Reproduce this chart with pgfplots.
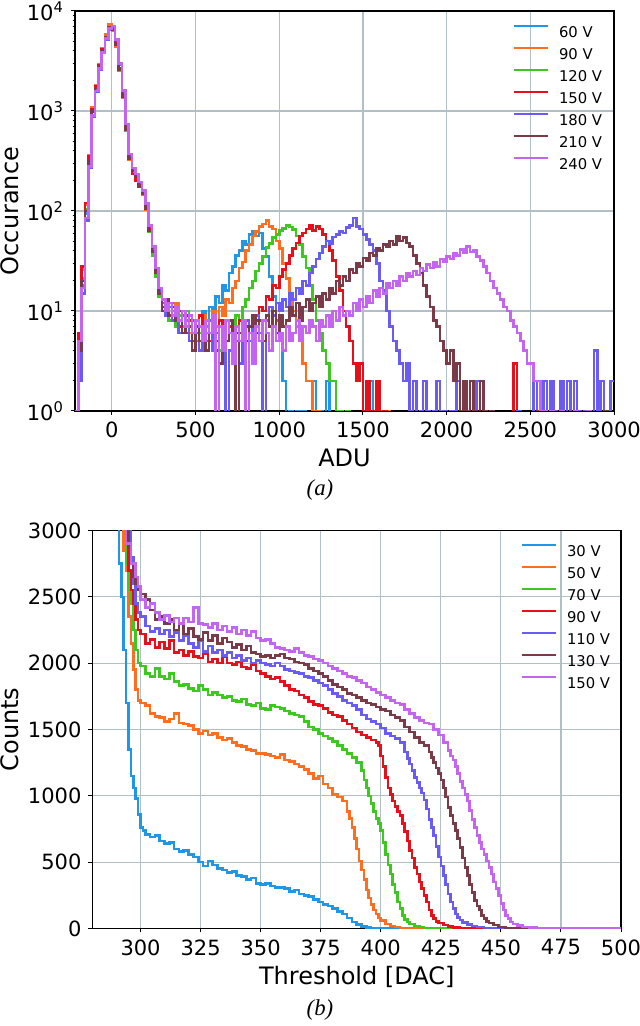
\documentclass[border=0pt]{standalone}
\usepackage{fontspec}
\setmainfont{DejaVu Sans}
\newfontfamily\capfont{Liberation Serif}
\usepackage{pgfplots}
\pgfplotsset{compat=1.18}
\definecolor{c1}{HTML}{1F96E6}
\definecolor{c2}{HTML}{FF6E1E}
\definecolor{c3}{HTML}{3CC81E}
\definecolor{c4}{HTML}{E6101A}
\definecolor{c5}{HTML}{6A5CF2}
\definecolor{c6}{HTML}{7A3A48}
\definecolor{c7}{HTML}{C464F0}
\definecolor{gridc}{HTML}{B0C0C6}
\pgfplotsset{myax/.style={
  scale only axis,
  axis line style={line width=0.6pt},
  tick align=outside, xtick pos=left, ytick pos=left,
  major tick length=2pt, minor tick length=1.2pt,
  tick style={black, line width=0.5pt},
  grid=major, major grid style={gridc, line width=0.6pt},
  tick label style={font=\fontsize{10.5}{12}\selectfont},
  label style={font=\fontsize{12}{14}\selectfont},
  legend style={draw=none, fill=none, anchor=north west, font=\fontsize{7.4}{8}\selectfont, inner sep=0pt, outer sep=0pt, row sep=5.1pt, nodes={inner sep=0pt, text height=5.4pt, text depth=0pt}, /tikz/every odd column/.append style={column sep=5pt}},
  legend cell align=left,
  legend image code/.code={\draw[##1, line width=1pt] (0pt,2.7pt) -- (17pt,2.7pt);},
  every axis plot/.append style={const plot mark left, line width=1.3pt, mark=none, line join=miter},
}}
\begin{document}
\begin{tikzpicture}
\path[use as bounding box] (0,0) rectangle (320pt,513pt);
\begin{axis}[myax, at={(37.5pt,307.5pt)}, anchor=south west, width=269.5pt, height=200pt,
  xmin=-220, xmax=3000, ymode=log, ymin=1, ymax=10000,
  xtick={0,500,...,3000}, xticklabels={0,500,1000,1500,2000,2500,3000},
  ytick={1,10,100,1000,10000},
  minor ytick={2,...,9,20,30,...,90,200,300,...,900,2000,3000,...,9000},
  yticklabels={10\textsuperscript{0},10\textsuperscript{1},10\textsuperscript{2},10\textsuperscript{3},10\textsuperscript{4}},
  xlabel={ADU}, ylabel={Occurance},
  xlabel style={at={(axis description cs:0.5,-0.1175)}, anchor=center},
  ylabel style={at={(axis description cs:-0.1206,0.5)}, anchor=center},
  legend style={at={(0.8126,0.964)}}]
\addplot[c1] coordinates {(-220,0.5)(-200,3)(-180,18)(-160,95)(-140,310)(-120,980)(-100,1650)(-80,2750)(-60,3900)(-40,5400)(-20,6600)(0,6300)(20,4600)(40,2700)(60,1450)(80,680)(100,340)(120,255)(140,225)(160,185)(180,150)(200,108)(220,66)(240,41)(260,24)(280,15)
(300,13)(320,9)(340,11)(360,12)(380,7)(400,10)(420,6)(440,8)(460,9)(480,4)(500,7)(520,6)(540,10)(560,7)(580,11)(600,9)(620,14)(640,12)(660,18)(680,16)(700,24)(720,28)(740,36)(760,40)(780,50)(800,46)(820,58)(840,62)(860,56)(880,60)(900,42)(920,35)(940,22)(960,14)(980,8)(1000,5)(1020,2)(1040,0.5)(1060,1)(1080,0.5)(1100,1)(1120,0.5)(1140,1)(1160,0.5)(1200,2)(1220,0.5)(1240,1)(1260,0.5)(1280,2)(1300,0.5)(1340,1)(1360,0.5)(1540,2)(1560,0.5)(1600,1)(1620,0.5)(3000,0.5)};
\addplot[c2] coordinates {(-220,0.5)(-200,5)(-180,26)(-160,115)(-140,360)(-120,1080)(-100,1820)(-80,2950)(-60,4250)(-40,5800)(-20,7300)(0,6400)(20,4400)(40,2500)(60,1350)(80,630)(100,325)(120,245)(140,210)(160,182)(180,146)(200,104)(220,63)(240,38)(260,23)(280,16)
(300,11)(320,13)(340,9)(360,10)(380,12)(400,8)(420,7)(440,10)(460,6)(480,8)(500,5)(520,7)(540,9)(560,6)(580,8)(600,10)(620,7)(640,11)(660,9)(680,13)(700,12)(720,17)(740,20)(760,27)(780,31)(800,40)(820,46)(840,56)(860,62)(880,70)(900,74)(920,80)(940,70)(960,66)(980,50)(1000,42)(1020,30)(1040,21)(1060,14)(1080,10)(1100,7)(1120,5)(1140,3)(1160,2)(1180,2)(1200,1)(1220,1)(1240,0.5)(1640,1)(1660,0.5)(3000,0.5)};
\addplot[c3] coordinates {(-220,1)(-200,4)(-180,21)(-160,105)(-140,330)(-120,1010)(-100,1720)(-80,2800)(-60,4050)(-40,5600)(-20,6800)(0,6600)(20,4550)(40,2650)(60,1420)(80,660)(100,335)(120,240)(140,205)(160,178)(180,148)(200,112)(220,62)(240,36)(260,22)(280,14)
(300,10)(320,12)(340,8)(360,11)(380,7)(400,9)(420,6)(440,10)(460,7)(480,5)(500,8)(520,6)(540,4)(560,7)(580,5)(600,8)(620,6)(640,4)(660,7)(680,5)(700,8)(720,6)(740,9)(760,8)(780,11)(800,13)(820,17)(840,20)(860,25)(880,30)(900,35)(920,43)(940,47)(960,54)(980,58)(1000,64)(1020,67)(1040,72)(1060,69)(1080,65)(1100,56)(1120,46)(1140,35)(1160,27)(1180,18)(1200,13)(1220,8)(1240,6)(1260,4)(1280,3)(1300,2)(1320,2)(1340,1)(1360,1)(1380,0.5)(1400,1)(1420,0.5)(1960,1)(1980,0.5)(2260,1)(2280,0.5)(3000,0.5)};
\addplot[c4] coordinates {(-220,0.5)(-200,6)(-180,28)(-160,120)(-140,350)(-120,1040)(-100,1760)(-80,2850)(-60,4100)(-40,5500)(-20,6700)(0,6700)(20,4700)(40,2700)(60,1480)(80,690)(100,345)(120,235)(140,200)(160,175)(180,150)(200,110)(220,68)(240,40)(260,25)(280,15)
(300,11)(320,9)(340,12)(360,8)(380,10)(400,7)(420,9)(440,6)(460,8)(480,5)(500,7)(520,9)(540,6)(560,8)(580,5)(600,7)(620,4)(640,8)(660,6)(680,5)(700,7)(720,4)(740,6)(760,8)(780,5)(800,7)(820,6)(840,9)(860,8)(880,11)(900,10)(920,14)(940,13)(960,18)(980,17)(1000,22)(1020,26)(1040,30)(1060,36)(1080,42)(1100,48)(1120,56)(1140,60)(1160,66)(1180,72)(1200,64)(1220,70)(1240,66)(1260,58)(1280,50)(1300,40)(1320,32)(1340,22)(1360,16)(1380,10)(1400,7)(1420,5)(1440,3)(1460,2)(1480,3)(1500,1)(1520,2)(1540,0.5)(1560,1)(1580,2)(1600,0.5)(1620,1)(1640,0.5)(2400,3)(2420,0.5)(2560,2)(2580,0.5)(3000,0.5)};
\addplot[c5] coordinates {(-220,0.5)(-200,2)(-180,15)(-160,80)(-140,270)(-120,880)(-100,1550)(-80,2600)(-60,3800)(-40,5200)(-20,6500)(0,6900)(20,5000)(40,2900)(60,1550)(80,720)(100,360)(120,265)(140,230)(160,192)(180,158)(200,115)(220,70)(240,42)(260,26)(280,16)
(300,12)(320,9)(340,11)(360,8)(380,10)(400,6)(420,9)(440,7)(460,5)(480,8)(500,6)(520,4)(540,7)(560,5)(580,8)(600,4)(620,6)(640,3)(660,7)(680,0.5)(700,4)(720,7)(740,5)(760,3)(780,6)(800,8)(820,5)(840,7)(860,9)(880,6)(900,0.5)(920,8)(940,11)(960,9)(980,12)(1000,10)(1020,13)(1040,11)(1060,15)(1080,13)(1100,17)(1120,15)(1140,20)(1160,18)(1180,24)(1200,28)(1220,33)(1240,38)(1260,44)(1280,50)(1300,47)(1320,55)(1340,58)(1360,62)(1380,60)(1400,68)(1420,72)(1440,85)(1460,70)(1480,66)(1500,58)(1520,52)(1540,46)(1560,40)(1580,30)(1600,20)(1620,16)(1640,10)(1660,7)(1680,5)(1700,4)(1720,3)(1740,2)(1760,3)(1780,1)(1800,2)(1820,0.5)(1840,1)(1860,2)(1880,1)(1900,0.5)(1920,1)(1940,2)(1960,0.5)(1980,1)(2000,0.5)(2020,1)(2040,0.5)(2060,2)(2080,0.5)(2120,1)(2140,0.5)(2180,2)(2200,0.5)(2220,1)(2240,0.5)(2420,1)(2440,0.5)(2520,2)(2540,0.5)(2580,2)(2600,0.5)(2620,2)(2640,1)(2660,0.5)(2680,2)(2700,0.5)(2720,2)(2740,0.5)(2760,2)(2780,1)(2800,0.5)(2820,1)(2840,0.5)(2880,4)(2900,0.5)(2920,2)(2940,0.5)(2960,1)(2980,2)(3000,2)};
\addplot[c6] coordinates {(-220,0.5)(-200,4)(-180,20)(-160,100)(-140,315)(-120,990)(-100,1700)(-80,2780)(-60,4000)(-40,5500)(-20,6900)(0,6500)(20,4550)(40,2600)(60,1400)(80,650)(100,330)(120,250)(140,222)(160,180)(180,150)(200,105)(220,64)(240,39)(260,24)(280,15)
(300,10)(320,13)(340,9)(360,11)(380,8)(400,10)(420,6)(440,9)(460,7)(480,4)(500,8)(520,5)(540,7)(560,4)(580,6)(600,8)(620,5)(640,3)(660,7)(680,5)(700,8)(720,4)(740,0.5)(760,6)(780,8)(800,5)(820,7)(840,9)(860,6)(880,8)(900,5)(920,9)(940,7)(960,10)(980,6)(1000,9)(1020,7)(1040,8)(1060,11)(1080,9)(1100,12)(1120,8)(1140,11)(1160,13)(1180,10)(1200,12)(1220,14)(1240,11)(1260,15)(1280,13)(1300,17)(1320,15)(1340,20)(1360,18)(1380,22)(1400,20)(1420,26)(1440,24)(1460,30)(1480,28)(1500,34)(1520,32)(1540,38)(1560,36)(1580,42)(1600,40)(1620,46)(1640,44)(1660,50)(1680,46)(1700,56)(1720,50)(1740,54)(1760,48)(1780,44)(1800,36)(1820,30)(1840,24)(1860,18)(1880,14)(1900,11)(1920,8)(1940,7)(1960,5)(1980,4)(2000,3)(2020,4)(2040,2)(2060,3)(2080,1)(2100,2)(2120,1)(2140,2)(2160,1)(2180,0.5)(2200,2)(2220,1)(2240,0.5)(2260,1)(2280,0.5)(2540,1)(2560,0.5)(2940,1)(2960,0.5)(3000,0.5)};
\addplot[c7] coordinates {(-220,1)(-200,5)(-180,17)(-160,85)(-140,280)(-120,900)(-100,1580)(-80,2650)(-60,3850)(-40,5300)(-20,6700)(0,7100)(20,5200)(40,3000)(60,1600)(80,740)(100,370)(120,270)(140,235)(160,195)(180,160)(200,118)(220,72)(240,44)(260,27)(280,17)
(300,13)(320,10)(340,12)(360,9)(380,11)(400,8)(420,10)(440,7)(460,9)(480,6)(500,8)(520,7)(540,5)(560,8)(580,6)(600,9)(620,0.5)(640,7)(660,4)(680,8)(700,6)(720,3)(740,7)(760,5)(780,8)(800,0.5)(820,6)(840,3)(860,7)(880,5)(900,8)(920,6)(940,4)(960,7)(980,5)(1000,6)(1020,4)(1040,7)(1060,5)(1080,6)(1100,8)(1120,5)(1140,7)(1160,6)(1180,8)(1200,7)(1220,5)(1240,8)(1260,7)(1280,9)(1300,7)(1320,10)(1340,8)(1360,11)(1380,9)(1400,10)(1420,9)(1440,12)(1460,10)(1480,13)(1500,11)(1520,14)(1540,12)(1560,16)(1580,14)(1600,17)(1620,15)(1640,19)(1660,17)(1680,20)(1700,18)(1720,22)(1740,20)(1760,24)(1780,22)(1800,25)(1820,23)(1840,27)(1860,25)(1880,29)(1900,27)(1920,31)(1940,28)(1960,33)(1980,31)(2000,35)(2020,33)(2040,38)(2060,36)(2080,41)(2100,38)(2120,44)(2140,39)(2160,40)(2180,35)(2200,32)(2220,28)(2240,24)(2260,20)(2280,17)(2300,15)(2320,13)(2340,11)(2360,10)(2380,8)(2400,7)(2420,6)(2440,5)(2460,4)(2480,3)(2500,3)(2520,2)(2540,2)(2560,1)(2580,1)(2600,0.5)(2620,1)(2640,0.5)(2680,1)(2700,0.5)(2760,1)(2780,0.5)(2840,1)(2860,0.5)(3000,0.5)};
\legend{60 V,90 V,120 V,150 V,180 V,210 V,240 V}
\end{axis}
\begin{axis}[myax, at={(46.25pt,48.75pt)}, anchor=south west, width=264.25pt, height=199pt,
  xmin=280, xmax=500, ymin=0, ymax=3000,
  xtick={300,325,...,500}, xticklabels={300,325,350,375,400,425,450,475,500},
  ytick={0,500,...,3000}, yticklabels={0,500,1000,1500,2000,2500,3000},
  xlabel={Threshold [DAC]}, ylabel={Counts},
  xlabel style={at={(axis description cs:0.5,-0.122)}, anchor=center},
  ylabel style={at={(axis description cs:-0.156,0.5)}, anchor=center},
  legend style={at={(0.8108,0.965)}}]
\addplot[c1] coordinates {(286,4000)(290,3200)(291,2750)(292,2500)(293,2100)(294,1700)(295,1350)(296,1150)(297,1060)(298,980)(299,860)(300,760)(301,740)(302,710)(304,690)(306,700)(308,660)(310,640)(312,650)(314,600)(316,580)(318,590)(320,560)(322,540)(324,500)(326,470)(328,510)(330,480)(332,450)(334,440)(336,420)(338,430)(340,400)(342,390)(344,370)(346,380)(348,340)(350,330)(352,340)(354,320)(356,310)(358,310)(360,300)(362,280)(364,290)(366,260)(368,250)(370,240)(372,220)(374,200)(376,180)(378,170)(380,150)(382,130)(384,110)(386,80)(388,50)(390,30)(392,15)(394,8)(396,4)(398,2)(400,0)(500,0)};
\addplot[c2] coordinates {(286,4000)(292,3050)(293,2850)(294,2700)(295,2350)(296,2150)(297,1950)(298,1800)(299,1720)(300,1700)(302,1680)(304,1620)(306,1600)(308,1590)(310,1560)(312,1580)(314,1620)(316,1550)(318,1540)(320,1530)(322,1500)(324,1470)(326,1490)(328,1460)(330,1470)(332,1440)(334,1420)(336,1430)(338,1400)(340,1380)(342,1370)(344,1350)(346,1340)(348,1320)(350,1320)(352,1310)(354,1300)(356,1290)(358,1310)(360,1270)(362,1260)(364,1240)(366,1220)(368,1200)(370,1170)(372,1130)(374,1150)(376,1090)(378,1060)(380,1010)(382,990)(384,960)(386,880)(387,830)(388,760)(389,680)(390,600)(391,510)(392,440)(393,370)(394,290)(395,230)(396,180)(397,140)(398,110)(399,80)(400,60)(402,35)(404,20)(406,10)(408,5)(410,2)(414,0)(500,0)};
\addplot[c3] coordinates {(286,4000)(293,3050)(294,2750)(295,2550)(296,2450)(297,2250)(298,2100)(299,2000)(300,1980)(302,1920)(304,1900)(306,1960)(308,1900)(310,1880)(312,1920)(314,1860)(316,1830)(318,1840)(320,1810)(322,1790)(324,1830)(326,1800)(328,1760)(330,1780)(332,1760)(334,1740)(336,1750)(338,1720)(340,1710)(342,1730)(344,1690)(346,1680)(348,1700)(350,1660)(352,1650)(354,1680)(356,1670)(358,1660)(360,1640)(362,1620)(364,1610)(366,1600)(368,1560)(370,1520)(372,1500)(374,1470)(376,1450)(378,1430)(380,1410)(382,1380)(384,1350)(386,1320)(388,1290)(390,1250)(392,1190)(393,1120)(394,1060)(395,1000)(396,940)(397,880)(398,830)(399,790)(400,740)(401,650)(402,560)(403,480)(404,410)(405,330)(406,270)(407,200)(408,150)(409,100)(410,70)(411,50)(412,35)(414,20)(416,10)(418,5)(420,2)(424,0)(500,0)};
\addplot[c4] coordinates {(286,4000)(294,3050)(295,2700)(296,2550)(297,2450)(298,2330)(299,2250)(300,2220)(302,2150)(304,2180)(306,2120)(308,2160)(310,2110)(312,2170)(314,2080)(316,2100)(318,2060)(320,2090)(322,2050)(324,2040)(326,2070)(328,2010)(330,2030)(332,2000)(334,2050)(336,2000)(338,1990)(340,2010)(342,1970)(344,1960)(346,1990)(348,1940)(350,1920)(352,1900)(354,1880)(356,1890)(358,1860)(360,1830)(362,1800)(364,1790)(366,1760)(368,1740)(370,1710)(372,1690)(374,1680)(376,1660)(378,1630)(380,1610)(382,1600)(384,1570)(386,1540)(388,1510)(390,1480)(392,1460)(394,1440)(396,1420)(398,1400)(399,1380)(400,1300)(401,1220)(402,1140)(403,1060)(404,1010)(405,960)(406,920)(407,880)(408,850)(409,790)(410,730)(411,660)(412,590)(413,530)(414,460)(415,410)(416,350)(417,300)(418,250)(419,200)(420,140)(421,100)(422,75)(423,55)(424,40)(426,25)(428,15)(430,8)(433,4)(436,2)(440,0)(500,0)};
\addplot[c5] coordinates {(286,4000)(295,3050)(296,2800)(297,2600)(298,2450)(299,2380)(300,2350)(302,2280)(304,2240)(306,2260)(308,2220)(310,2250)(312,2200)(314,2230)(316,2170)(318,2210)(320,2150)(322,2120)(324,2170)(326,2090)(328,2130)(330,2080)(332,2100)(334,2060)(336,2080)(338,2040)(340,2060)(342,2020)(344,2040)(346,2000)(348,2020)(350,2000)(352,1990)(354,1980)(356,2000)(358,1980)(360,1950)(362,1940)(364,1930)(366,1920)(368,1900)(370,1890)(372,1870)(374,1850)(376,1830)(378,1800)(380,1770)(382,1750)(384,1720)(386,1700)(388,1680)(390,1650)(392,1610)(394,1580)(396,1560)(398,1540)(400,1510)(402,1470)(404,1450)(406,1430)(408,1400)(410,1330)(411,1280)(412,1240)(413,1190)(414,1140)(415,1100)(416,1060)(417,1020)(418,970)(419,900)(420,820)(421,760)(422,700)(423,620)(424,540)(425,470)(426,400)(427,330)(428,260)(429,200)(430,150)(431,110)(432,85)(433,65)(434,45)(436,30)(438,18)(440,10)(443,5)(446,2)(450,0)(500,0)};
\addplot[c6] coordinates {(286,4000)(294,3050)(295,2880)(296,2750)(297,2650)(298,2600)(299,2550)(300,2520)(302,2480)(304,2400)(306,2330)(308,2350)(310,2300)(312,2330)(314,2250)(316,2300)(318,2220)(320,2260)(322,2200)(324,2180)(326,2230)(328,2170)(330,2210)(332,2150)(334,2190)(336,2160)(338,2120)(340,2140)(342,2100)(344,2130)(346,2080)(348,2070)(350,2050)(352,2060)(354,2040)(356,2060)(358,2070)(360,2040)(362,2030)(364,2010)(366,2000)(368,1990)(370,1960)(372,1940)(374,1920)(376,1900)(378,1870)(380,1840)(382,1820)(384,1800)(386,1770)(388,1760)(390,1740)(392,1720)(394,1700)(396,1690)(398,1670)(400,1650)(402,1640)(404,1610)(406,1590)(408,1570)(410,1520)(412,1480)(414,1440)(416,1400)(418,1380)(420,1330)(421,1290)(422,1250)(423,1210)(424,1170)(425,1120)(426,1060)(427,990)(428,910)(429,850)(430,790)(431,740)(432,680)(433,610)(434,530)(435,460)(436,400)(437,330)(438,270)(439,210)(440,170)(441,140)(442,100)(443,75)(444,55)(445,40)(447,25)(449,12)(452,5)(455,2)(460,0)(500,0)};
\addplot[c7] coordinates {(286,4000)(293,3050)(294,2900)(296,2750)(298,2650)(299,2580)(300,2480)(302,2420)(304,2450)(306,2380)(308,2330)(310,2360)(312,2310)(314,2340)(316,2300)(318,2340)(320,2310)(322,2420)(324,2300)(326,2290)(328,2270)(330,2300)(332,2250)(334,2280)(336,2240)(338,2270)(340,2220)(342,2250)(344,2210)(346,2240)(348,2190)(350,2170)(352,2180)(354,2150)(356,2120)(358,2110)(360,2100)(362,2090)(364,2110)(366,2080)(368,2060)(370,2050)(372,2030)(374,2020)(376,2000)(378,1980)(380,1960)(382,1940)(384,1920)(386,1900)(388,1890)(390,1870)(392,1850)(394,1820)(396,1800)(398,1780)(400,1760)(402,1740)(404,1720)(406,1700)(408,1690)(410,1650)(412,1620)(414,1590)(416,1570)(418,1550)(420,1540)(422,1500)(424,1460)(426,1400)(428,1340)(429,1300)(430,1270)(431,1220)(432,1170)(433,1110)(434,1060)(435,1010)(436,960)(437,890)(438,820)(439,760)(440,700)(441,650)(442,600)(443,560)(444,510)(445,460)(446,410)(447,350)(448,300)(449,250)(450,190)(451,140)(452,100)(453,75)(454,50)(455,35)(457,22)(459,12)(462,6)(465,3)(470,1)(475,0)(500,0)};
\legend{30 V,50 V,70 V,90 V,110 V,130 V,150 V}
\end{axis}
\node[font=\capfont\fontsize{11.4}{13}\selectfont\itshape] at (160pt,268pt) {(a)};
\node[font=\capfont\fontsize{11.4}{13}\selectfont\itshape] at (160pt,8pt) {(b)};
\end{tikzpicture}
\end{document}
